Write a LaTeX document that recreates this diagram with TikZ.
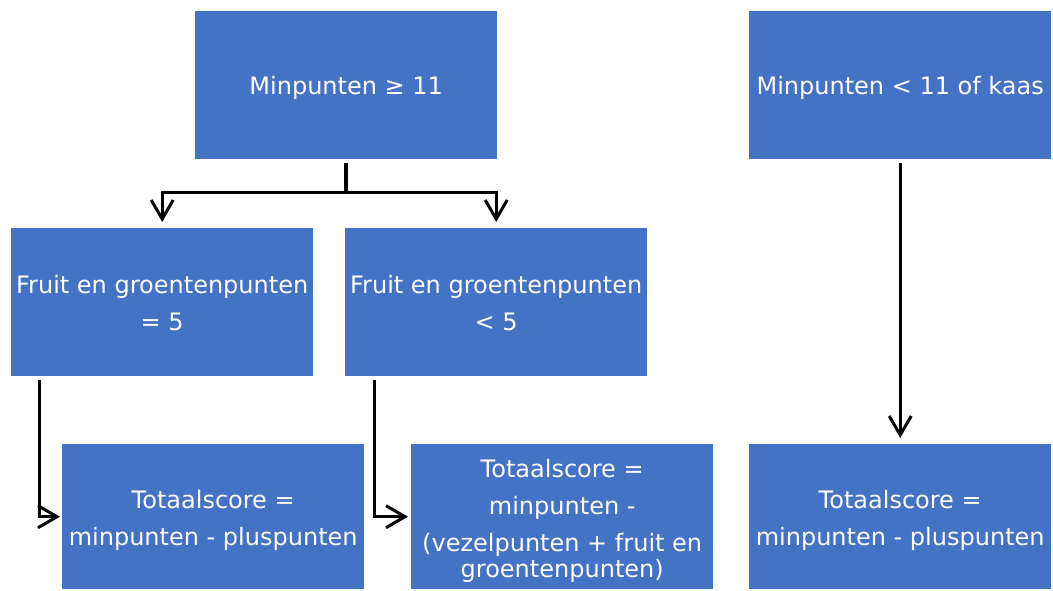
\documentclass[tikz,border=0pt]{standalone}
\usepackage{fontspec}
\setmainfont{DejaVu Sans}
\usetikzlibrary{arrows.meta}
\definecolor{boxblue}{HTML}{4472C4}
\begin{document}
\begin{tikzpicture}[x=1pt,y=-1pt,
  box/.style={fill=boxblue, draw=none, inner sep=0pt,
    minimum width=302pt, minimum height=148pt, anchor=north west},
  txt/.style={text=white, inner sep=0pt, align=center,
    font=\fontsize{24}{37}\selectfont},
  conn/.style={draw=black, line width=3pt},
  arr/.style={conn, -{Straight Barb[length=19pt,width=22pt,line width=3pt]}}
]
\useasboundingbox (0,0) rectangle (1053,590);
\node[box] (A) at (195,11) {};
\node[box] (B) at (749,11) {};
\node[box] (C) at (11,228) {};
\node[box] (D) at (345,228) {};
\node[box, minimum height=145pt] (E) at (62,444) {};
\node[box, minimum height=145pt] (F) at (411,444) {};
\node[box, minimum height=145pt] (G) at (749,444) {};
\node[txt] (At) at ([yshift=-3pt]A.center) {Minpunten ≥ 11};
\node[txt] (Bt) at ([yshift=-3pt]B.center) {Minpunten < 11 of kaas};
\node[txt] (Ct) at ([yshift=-1pt]C.center) {Fruit en groentenpunten\\= 5};
\node[txt] (Dt) at ([yshift=-1pt]D.center) {Fruit en groentenpunten\\< 5};
\node[txt] (Et) at ([yshift=-4pt]E.center) {Totaalscore =\\minpunten - pluspunten};
\node[txt] (Ft) at ([yshift=-4pt]F.center) {Totaalscore =\\minpunten -\\(vezelpunten + fruit en\\[-11pt]groentenpunten)};
\node[txt] (Gt) at ([yshift=-4pt]G.center) {Totaalscore =\\minpunten - pluspunten};
% from A
\draw[conn, line width=3.5pt, shorten <=4pt] (A.south) -- ++(0,33) coordinate (j);
\draw[arr, shorten >=6pt] (j) -| (C.north);
\draw[arr, shorten >=6pt] (j) -| (D.north);
% from C and D
\draw[arr, shorten >=2pt] (C.south west) ++(28,4) |- (E.west);
\draw[arr, shorten >=3pt] (D.south west) ++(29,4) |- (F.west);
% from B
\draw[arr, shorten <=4pt, shorten >=6pt] (B.south) -- (G.north);
\end{tikzpicture}
\end{document}
